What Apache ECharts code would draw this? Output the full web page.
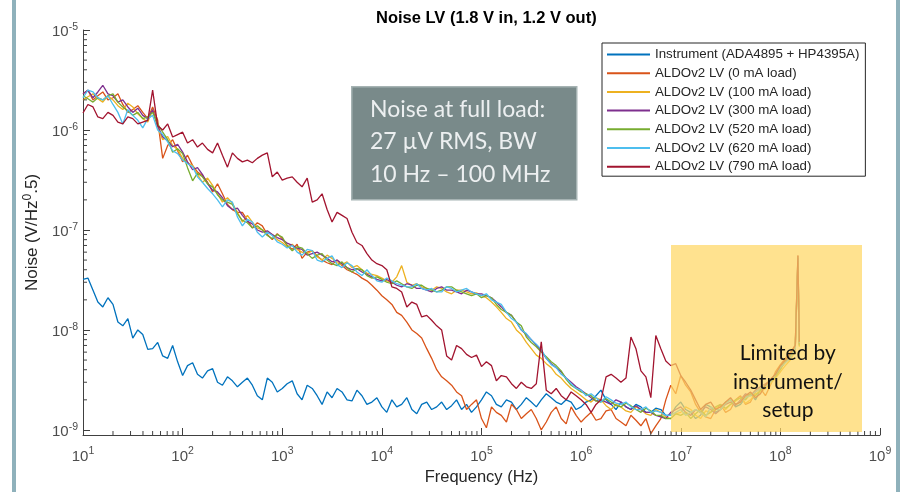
<!DOCTYPE html>
<html><head><meta charset="utf-8">
<script src="https://cdn.jsdelivr.net/npm/echarts@6/dist/echarts.min.js"></script>
<style>html,body{margin:0;padding:0;background:#fff;}#c{width:900px;height:492px;}</style>
</head><body><div id="c"></div>
<script>
// Frequencies (Hz)
const freqHz = [
10,11.2,12.6,14.1,15.8,17.8,20,22.4,25.1,28.2,31.6,35.5,39.8,44.7,50,56.2,63.1,70.8,79.4,89.1,
100,112,126,141,158,178,200,224,251,282,316,355,398,447,501,562,631,708,794,891,
1000,1120,1260,1410,1580,1780,2000,2240,2510,2820,3160,3550,3980,4470,5010,5620,6310,7080,7940,8910,
1e4,1.12e4,1.26e4,1.41e4,1.58e4,1.78e4,2e4,2.24e4,2.51e4,2.82e4,3.16e4,3.55e4,3.98e4,4.47e4,5.01e4,5.62e4,6.31e4,7.08e4,7.94e4,8.91e4,
1e5,1.12e5,1.26e5,1.41e5,1.58e5,1.78e5,2e5,2.24e5,2.51e5,2.82e5,3.16e5,3.55e5,3.98e5,4.47e5,5.01e5,5.62e5,6.31e5,7.08e5,7.94e5,8.91e5,
1e6,1.12e6,1.26e6,1.41e6,1.58e6,1.78e6,2e6,2.24e6,2.51e6,2.82e6,3.16e6,3.55e6,3.98e6,4.47e6,5.01e6,5.62e6,6.31e6,7.08e6,7.94e6,8.91e6,
1e7,1.12e7,1.26e7,1.41e7,1.58e7,1.78e7,2e7,2.24e7,2.51e7,2.82e7,3.16e7,3.55e7,3.98e7,4.47e7,5.01e7,5.62e7,6.31e7,7.08e7,7.94e7,8.91e7,
1e8,1.12e8,1.26e8,1.41e8,1.5e8,1.55e8];

// Noise densities in nV/sqrt(Hz)
const instrument = [
32,33,25,19,17,21,18,12,11,13,8.3,10,9,6.4,6.5,7.5,5.5,5.2,7.0,4.8,
3.5,4.4,4.7,3.6,3.3,3.9,4.1,3.0,2.8,3.4,3.1,2.7,3.0,3.3,2.8,2.2,2.0,3.3,3.0,2.4,
2.6,2.9,3.1,2.3,2.0,2.8,2.6,2.2,1.8,2.4,2.1,2.6,2.4,2.0,1.95,2.5,2.2,1.8,1.9,2.1,
1.7,1.5,2.0,1.7,1.8,2.1,1.6,1.45,1.8,1.9,1.6,1.7,1.9,1.6,1.75,2.0,1.6,1.8,1.5,1.7,
2.0,2.4,2.2,1.8,1.7,2.0,1.9,1.6,1.8,2.1,1.9,1.7,2.0,2.3,2.1,1.9,1.8,2.0,1.9,1.6,
1.7,1.9,2.0,2.2,2.5,2.0,1.8,1.6,1.9,1.7,1.6,1.8,1.7,1.5,1.5,1.65,1.6,1.4,1.4,1.7,
1.9,1.6,1.5,1.3,1.4,1.8,1.7,1.5,1.6,1.9,2.0,1.7,1.8,2.1,2.3,2.0,2.5,2.8,3.0,3.5,
4.2,4.9,5.5,6.5,45,7];
const load0mA = [
2300,2500,2000,2200,2400,2000,2100,2300,1800,1500,1600,1750,1500,1300,1700,1250,520,700,800,620,
480,560,440,380,350,300,240,290,230,180,160,150,150,125,105,118,110,90,80,92,
82,70,64,72,52,60,62,55,50,47,45,50,44,40,38,36,33,31,28,25,
22,20,18,15,14,12,10,9.2,8.3,6.5,5.2,4.0,3.4,3.1,2.8,2.4,2.2,1.6,1.8,2.0,
1.3,1.05,1.7,1.5,1.4,1.2,1.8,1.6,1.3,1.45,1.6,1.3,1.0,1.2,1.5,1.7,1.3,1.15,1.7,1.4,
1.2,1.35,1.5,1.25,1.3,1.55,1.6,1.3,1.2,1.1,1.4,1.25,1.1,1.3,0.92,1.1,1.3,2.0,2.8,2.3,
3.5,2.8,2.4,1.8,1.5,1.35,1.3,1.6,1.8,1.5,1.6,2.0,2.2,1.8,1.9,2.4,2.6,2.2,2.8,3.8,
4.5,5.2,6.0,7.0,55,8];
const load100mA = [
2000,2150,2300,2050,1900,2200,2000,1750,1600,1850,1700,1450,1300,1200,1600,1050,800,860,700,640,
520,470,440,360,300,330,280,230,190,210,185,150,120,140,120,105,100,96,90,80,
75,68,72,64,60,58,62,54,50,56,52,47,45,48,42,44,40,37,36,35,
33,31,30,34,44,30,28,29,27,26,25,27,26,24,23,25,25,24,23,23.5,
22,21,19,17,15,13,12,10,9,7.5,6.5,5.6,5.2,4.6,4.2,3.6,3.3,2.9,2.6,2.4,
2.2,2.0,1.9,2.1,2.0,1.75,1.6,1.8,1.7,1.55,1.5,1.7,1.6,1.45,1.4,1.6,1.5,1.35,1.3,1.45,
1.5,1.7,1.6,1.4,1.3,1.55,1.5,1.65,1.7,1.6,1.8,1.95,2.1,1.85,2.0,2.3,2.4,2.6,2.9,3.3,
3.8,4.4,5.0,6.2,48,6.8];
const load300mA = [
2300,2500,2100,2400,2800,2300,2200,1900,2000,1700,1500,1650,1400,1300,1600,1100,850,780,680,720,
600,480,400,420,360,290,250,240,210,175,160,165,140,122,115,100,95,98,90,84,
80,74,70,66,64,56,58,60,56,52,48,50,46,42,40,41,38,36,34,32,
31,32,30,28,27,29,28,26,26,25,24,26,27,25,25,24,23,25,24,23,
23,22,21,19,17,15,14,12,10,9,8,7,6.2,5.2,4.6,4.2,3.8,3.3,3.0,2.7,
2.5,2.3,2.1,1.95,2.0,1.9,1.8,2.0,1.9,1.7,1.6,1.75,1.6,1.5,1.5,1.4,1.35,1.3,1.5,1.6,
1.7,1.5,1.4,1.6,1.5,1.7,1.6,1.45,1.6,1.8,1.9,1.75,2.0,2.3,2.2,2.5,2.7,2.9,3.1,3.6,
4.1,4.8,5.4,6.4,52,7.2];
const load520mA = [
2200,2050,1900,2100,2000,2200,2300,1900,1700,1550,1400,1500,1300,1350,1500,1150,950,800,600,650,
580,420,310,370,340,290,270,225,200,190,180,145,125,118,105,110,100,88,82,90,
85,70,62,68,66,58,52,56,58,50,46,44,48,42,38,41,40,35,33,34,
32,30,29,31,29,27,26,28,28,26,25,24,25,27,27,25,24,23,22,23,
21,22,21,18,16,15,14,12,11,8.5,7.5,6.8,6.0,5.4,4.8,4.4,3.9,3.2,2.8,2.6,
2.4,2.3,2.2,1.95,1.9,2.05,1.9,1.75,1.7,1.85,1.75,1.6,1.5,1.65,1.55,1.4,1.4,1.3,1.3,1.45,
1.4,1.5,1.3,1.45,1.6,1.4,1.5,1.7,1.8,1.65,1.8,2.0,2.1,2.0,2.3,2.2,2.5,2.8,3.0,3.4,
4.0,4.9,5.6,6.6,50,7];
const load620mA = [
2100,2500,2400,2100,2000,2200,1800,1500,1150,1600,1400,1250,1050,1300,1400,1000,900,760,620,580,
500,460,430,340,300,260,230,200,170,200,190,135,110,128,120,95,85,95,88,76,
72,66,70,60,56,64,62,50,48,52,55,45,42,47,44,38,35,40,35,31,
30,33,31,29,28,27,27,29,26,25,26,24,24,27,26,24,25,26,24,23,
22,23,20,19,18,15,13,12,10,9.2,8,7.2,6.4,5.2,4.5,4.2,3.6,3.3,2.9,2.6,
2.5,2.2,2.3,2.1,1.9,2.15,2.0,1.85,1.8,1.9,1.7,1.6,1.6,1.7,1.5,1.55,1.5,1.4,1.4,1.5,
1.6,1.4,1.5,1.6,1.5,1.35,1.7,1.6,1.6,1.85,2.0,1.8,1.9,2.1,2.2,2.4,2.6,2.7,3.0,3.6,
4.2,4.7,5.2,6.5,54,7.4];
const load790mA = [
1480,1800,1700,1350,1300,1500,1400,1200,1150,1350,1300,1150,1200,1250,2500,1100,1000,1150,850,900,
950,740,800,675,740,640,590,740,560,425,590,520,480,500,470,520,560,590,340,380,
315,330,340,300,270,330,190,200,230,160,120,150,140,130,95,75,70,58,50,46,
44,40,27,26,24,17,19,18,13.5,14,12.5,11,10,5.5,5.0,7.0,6.5,5.7,5.3,5.6,
4.3,4.8,4.4,3.1,3.5,3.4,2.9,2.6,3.0,2.7,2.6,2.9,7.6,2.5,2.3,2.6,2.2,2.0,2.4,2.2,
2.0,1.8,1.5,1.8,2.0,3.4,3.6,3.3,3.0,3.3,8.5,6.5,3.9,3.4,2.1,8.8,6.5,4.9,4.4,4.6,
3.5,3.0,2.5,2.0,1.6,1.8,1.9,1.6,1.7,1.9,2.1,1.8,1.9,2.2,2.4,2.1,2.3,2.8,3.2,3.6,
4.4,5.0,5.8,7.0,56,7.6];

const seriesNames = [
'Instrument (ADA4895 + HP4395A)',
'ALDOv2 LV (0 mA load)',
'ALDOv2 LV (100 mA load)',
'ALDOv2 LV (300 mA load)',
'ALDOv2 LV (520 mA load)',
'ALDOv2 LV (620 mA load)',
'ALDOv2 LV (790 mA load)'];
const seriesValues = [instrument, load0mA, load100mA, load300mA, load520mA, load620mA, load790mA];
const seriesColors = ['#0072BD','#D95319','#EDB120','#7E2F8E','#77AC30','#4DBEEE','#A2142F'];

const xMin = 10, xMax = 1e9;
const yMin = 8.9e-10, yMax = 1e-5;
const minorMultipliers = [2,3,4,5,6,7,8,9];
const xDecades = [1,2,3,4,5,6,7,8];
const yDecades = [-9,-8,-7,-6];

const xMinor = [], yMinor = [];
xDecades.forEach(d => minorMultipliers.forEach(m => xMinor.push([m*Math.pow(10,d), yMin])));
yDecades.forEach(d => minorMultipliers.forEach(m => yMinor.push([xMin, m*Math.pow(10,d)])));

const FONT = 'Liberation Sans, Arial, sans-serif';
const tickRich = {
  b: {fontSize: 15, color: '#4d4d4d', fontFamily: FONT, verticalAlign: 'bottom', lineHeight: 19},
  e: {fontSize: 10.5, color: '#4d4d4d', fontFamily: FONT, verticalAlign: 'bottom', lineHeight: 19, padding: [0,0,7,0]}
};
function powLabel(v){
  const e = Math.round(Math.log10(v));
  return '{b|10}{e|' + e + '}';
}

const chart = echarts.init(document.getElementById('c'), null, {renderer:'canvas'});

const lineSeries = seriesNames.map((n,i) => ({
  name: n, type: 'line', symbol: 'none', showSymbol: false, animation: false,
  lineStyle: {width: 1.3, color: seriesColors[i]},
  itemStyle: {color: seriesColors[i]},
  z: 2 + i,
  data: freqHz.map((f,k) => [f, seriesValues[i][k]*1e-9])
}));

function tickRenderer(dir){
  return function(params, api){
    const p = api.coord([api.value(0), api.value(1)]);
    const len = 4;
    const shape = dir === 'x' ? {x1:p[0], y1:p[1], x2:p[0], y2:p[1]-len} : {x1:p[0], y1:p[1], x2:p[0]+len, y2:p[1]};
    return {type:'line', shape: shape, style:{stroke:'#404040', lineWidth:1}};
  };
}

chart.setOption({
  animation: false,
  backgroundColor: '#fff',
  title: {
    text: 'Noise LV (1.8 V in, 1.2 V out)', left: 371, top: 5,
    textStyle: {fontFamily: FONT, fontSize: 16.5, fontWeight: 'bold', color: '#000'}
  },
  grid: {left: 83, right: 20, top: 30, bottom: 57, containLabel: false},
  legend: {
    orient: 'vertical', left: 602, top: 43,
    itemWidth: 43, itemHeight: 14, itemGap: 5.7,
    padding: [5,6,3,4], borderColor: '#262626', borderWidth: 1, backgroundColor: '#fff',
    itemStyle: {opacity: 0, borderWidth: 0},
    textStyle: {fontFamily: FONT, fontSize: 13.3, color: '#262626'},
    data: seriesNames
  },
  xAxis: {
    type: 'log', logBase: 10, min: xMin, max: xMax,
    axisLine: {lineStyle: {color: '#404040', width: 1}},
    axisTick: {inside: true, length: 7, lineStyle: {color: '#404040'}},
    axisLabel: {formatter: powLabel, rich: tickRich, margin: 10},
    splitLine: {show: false},
    name: 'Frequency (Hz)', nameLocation: 'middle', nameGap: 33,
    nameTextStyle: {fontFamily: FONT, fontSize: 16.5, color: '#262626'}
  },
  yAxis: {
    type: 'log', logBase: 10, min: yMin, max: yMax,
    axisLine: {show: true, lineStyle: {color: '#404040', width: 1}},
    axisTick: {show: true, inside: true, length: 7, lineStyle: {color: '#404040'}},
    axisLabel: {formatter: powLabel, rich: tickRich, margin: 5, showMinLabel: false},
    splitLine: {show: false},
    name: 'Noise (V/Hz{s|0}.5)', nameLocation: 'middle', nameGap: 32,
    nameTextStyle: {fontFamily: FONT, fontSize: 17, color: '#262626',
      rich: {s: {fontFamily: FONT, fontSize: 12, color: '#262626', padding: [0,0,9,0], verticalAlign: 'bottom'}}}
  },
  graphic: [
    {type:'rect', left: 12, top: 0, shape:{width:4, height:492}, style:{fill:'#8fb1bb'}, z: 100},
    {type:'rect', left: 896, top: 0, shape:{width:4, height:492}, style:{fill:'#8fb1bb'}, z: 100},
    {type:'rect', left: 351, top: 86, shape:{width:225, height:113}, style:{fill:'#798a8a', stroke:'#a6b3b3', lineWidth:1.5}, z: 100},
    {type:'text', left: 370, top: 93, z: 101,
      style:{text:'Noise at full load:\n27 \u00b5V RMS, BW\n10 Hz \u2013 100 MHz', fill:'#eceff0', font:'23px Lato, sans-serif', lineHeight: 32.5}},
    {type:'rect', left: 671, top: 245, shape:{width:191, height:187}, style:{fill:'rgba(255,215,100,0.72)'}, z: 100},
    {type:'text', z: 101, left: 733, top: 339,
      style:{text:'Limited by\ninstrument/\nsetup', fill:'#111', font:'21px Lato, sans-serif', lineHeight: 28.5, textAlign:'center'}}
  ],
  series: lineSeries.concat([
    {type:'custom', silent:true, animation:false, clip:false, z: 10, renderItem: tickRenderer('x'), data: xMinor},
    {type:'custom', silent:true, animation:false, clip:false, z: 10, renderItem: tickRenderer('y'), data: yMinor}
  ])
});
</script></body></html>
